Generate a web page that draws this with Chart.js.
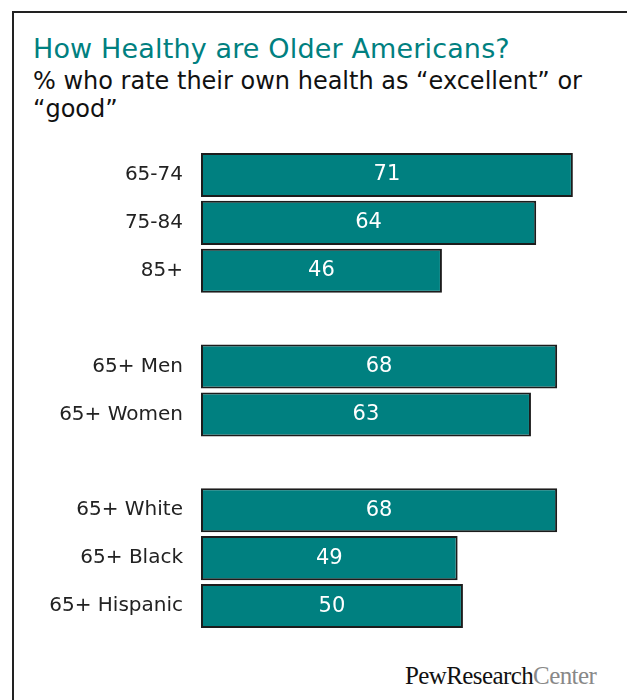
<!DOCTYPE html>
<html>
<head>
<meta charset="utf-8">
<script src="https://cdn.jsdelivr.net/npm/chart.js@4"></script>
<style>
    html, body { margin: 0; padding: 0; background: #fff; }
    body { width: 627px; height: 700px; position: relative; overflow: hidden; font-family: "DejaVu Sans", sans-serif; }
    .frame { position: absolute; left: 12px; top: 11px; width: 700px; height: 800px; border-left: 2px solid #222; border-top: 2px solid #222; }
    .title { position: absolute; left: 33px; top: 33px; font-size: 27px; line-height: 31px; letter-spacing: 0.15px; color: #008080; white-space: nowrap; }
    .subtitle { position: absolute; left: 33px; top: 67px; font-size: 24px; line-height: 28px; color: #111; white-space: nowrap; }
    #healthChart { position: absolute; left: 0; top: 120px; }
    .logo { position: absolute; left: 405px; top: 663px; font-family: "Liberation Serif", serif; font-size: 25px; line-height: 25px; letter-spacing: -0.6px; color: #111; white-space: nowrap; }
    .logo span { color: #888; }
</style>
</head>
<body>
<div class="frame"></div>
<div class="title">How Healthy are Older Americans?</div>
<div class="subtitle">% who rate their own health as “excellent” or<br>“good”</div>
<canvas id="healthChart" width="627" height="541"></canvas>
<div class="logo">PewResearch<span>Center</span></div>

<script>
// Values
const ageLabels = ['65-74', '75-84', '85+'];
const ageValues = [71, 64, 46];
const sexLabels = ['65+ Men', '65+ Women'];
const sexValues = [68, 63];
const raceLabels = ['65+ White', '65+ Black', '65+ Hispanic'];
const raceValues = [68, 49, 50];

// Join the groups with an empty row between them
const labels = [...ageLabels, '', ...sexLabels, '', ...raceLabels];
const values = [...ageValues, null, ...sexValues, null, ...raceValues];

// Draw the value in white in the middle of each bar
const barValuePlugin = {
    id: 'barValues',
    afterDatasetsDraw(chart) {
        const ctx = chart.ctx;
        const meta = chart.getDatasetMeta(0);
        ctx.save();
        ctx.fillStyle = '#ffffff';
        ctx.font = '21px "DejaVu Sans", sans-serif';
        ctx.textAlign = 'center';
        ctx.textBaseline = 'middle';
        meta.data.forEach((bar, i) => {
            const v = values[i];
            if (v === null) return;
            ctx.fillText(String(v), (bar.base + bar.x) / 2, bar.y);
        });
        ctx.restore();
    }
};

const ctx = document.getElementById('healthChart').getContext('2d');
const healthChart = new Chart(ctx, {
    type: 'bar',
    data: {
        labels: labels,
        datasets: [{
            data: values,
            backgroundColor: '#008080',
            borderColor: '#1c1c1c',
            borderWidth: 2,
            borderSkipped: false,
            categoryPercentage: 1,
            barPercentage: 0.92
        }]
    },
    options: {
        indexAxis: 'y',
        responsive: false,
        animation: false,
        layout: {
            padding: { top: 31, bottom: 31, right: 7, left: 0 }
        },
        plugins: {
            legend: { display: false },
            tooltip: { enabled: false }
        },
        scales: {
            x: {
                display: false,
                min: 0,
                max: 80
            },
            y: {
                grid: { display: false },
                border: { display: false },
                ticks: {
                    color: '#222',
                    padding: 10,
                    font: { family: '"DejaVu Sans", sans-serif', size: 20 }
                },
                afterFit(scale) {
                    scale.width = 201; // bars start at x=201
                }
            }
        }
    },
    plugins: [barValuePlugin]
});
</script>
</body>
</html>
